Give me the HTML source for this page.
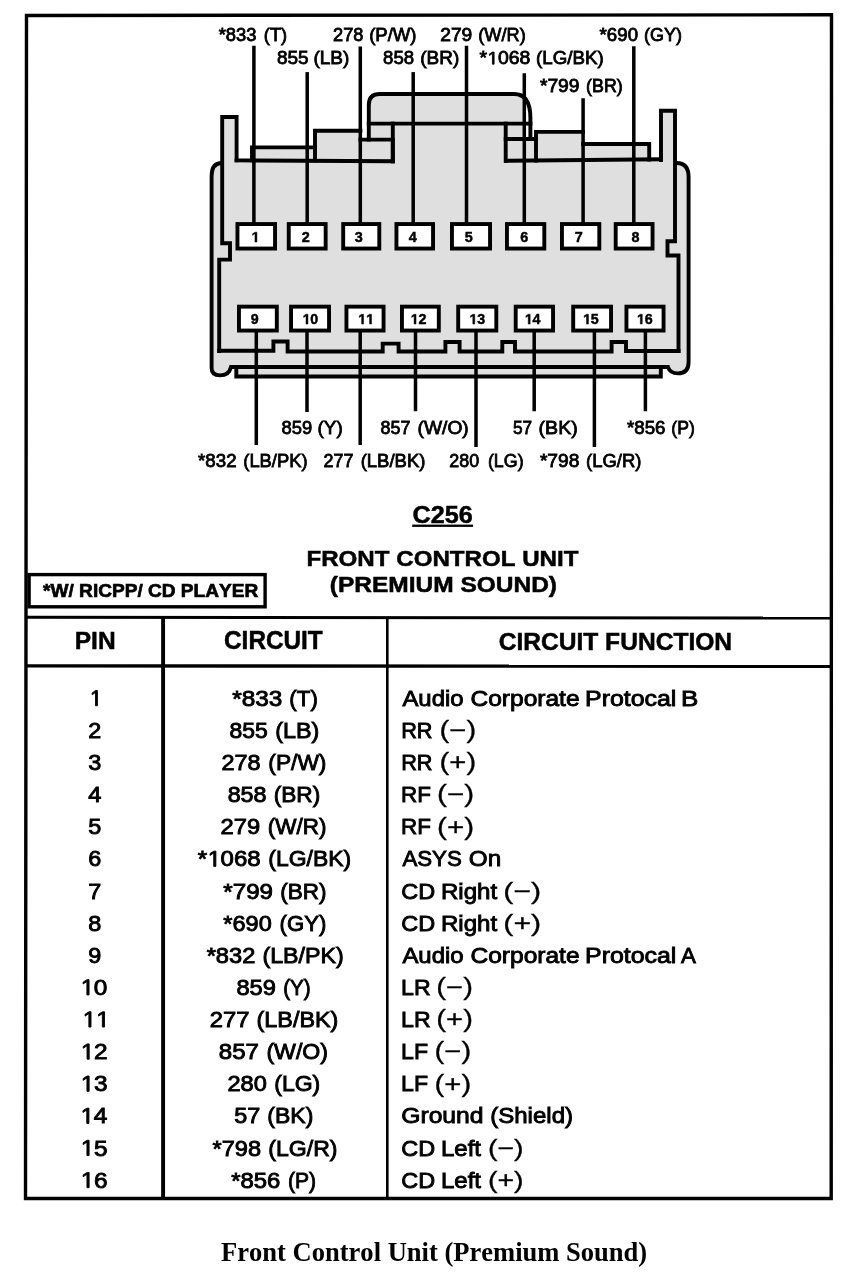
<!DOCTYPE html>
<html><head><meta charset="utf-8"><title>Front Control Unit (Premium Sound)</title>
<style>html,body{margin:0;padding:0;background:#fff;} svg{display:block;will-change:transform;} text{font-kerning:none;}</style>
</head><body>
<svg width="868" height="1276" viewBox="0 0 868 1276">
<rect x="0" y="0" width="868" height="1276" fill="#fff"/>
<path d="M 222.2,117 H 236.6 V 160.4 H 252 V 147.4 H 315 V 130.7 H 360.4 V 139.5 H 368.8 V 105 Q 368.8,94 379.8,94 H 514 Q 530.4,94 530.4,118 V 139 H 536 V 131.9 H 583 V 144 H 649.2 V 159 H 661 V 110.7 H 675 V 163 H 676.6 Q 688.6,163 688.6,177 V 362 Q 688.6,373.4 678,373.4 Q 670,373.4 668,367 H 661 V 376.5 H 236.3 V 367 H 231 Q 229,375.4 220,375.4 Q 211.6,375.4 211.6,368 V 176 Q 211.6,163 222,163 Z" fill="#dfdfdf"/>
<rect x="526" y="108" width="2.6" height="30" fill="#fff"/>
<rect x="237.45" y="224.05" width="37.60" height="24.50" fill="#fff" stroke="#000" stroke-width="3.9"/>
<rect x="288.75" y="224.05" width="36.90" height="24.50" fill="#fff" stroke="#000" stroke-width="3.9"/>
<rect x="343.20" y="224.05" width="36.10" height="24.50" fill="#fff" stroke="#000" stroke-width="3.9"/>
<rect x="396.45" y="224.05" width="36.60" height="24.50" fill="#fff" stroke="#000" stroke-width="3.9"/>
<rect x="451.95" y="224.05" width="38.10" height="24.50" fill="#fff" stroke="#000" stroke-width="3.9"/>
<rect x="506.95" y="224.05" width="37.35" height="24.50" fill="#fff" stroke="#000" stroke-width="3.9"/>
<rect x="561.95" y="224.05" width="37.35" height="24.50" fill="#fff" stroke="#000" stroke-width="3.9"/>
<rect x="615.70" y="224.05" width="36.85" height="24.50" fill="#fff" stroke="#000" stroke-width="3.9"/>
<rect x="238.95" y="306.65" width="37.85" height="23.90" fill="#fff" stroke="#000" stroke-width="3.9"/>
<rect x="291.05" y="306.65" width="38.00" height="23.90" fill="#fff" stroke="#000" stroke-width="3.9"/>
<rect x="346.45" y="306.65" width="37.10" height="23.90" fill="#fff" stroke="#000" stroke-width="3.9"/>
<rect x="401.95" y="306.65" width="36.85" height="23.90" fill="#fff" stroke="#000" stroke-width="3.9"/>
<rect x="458.20" y="306.65" width="38.10" height="23.90" fill="#fff" stroke="#000" stroke-width="3.9"/>
<rect x="515.70" y="306.65" width="37.35" height="23.90" fill="#fff" stroke="#000" stroke-width="3.9"/>
<rect x="573.20" y="306.65" width="37.85" height="23.90" fill="#fff" stroke="#000" stroke-width="3.9"/>
<rect x="626.45" y="306.65" width="37.10" height="23.90" fill="#fff" stroke="#000" stroke-width="3.9"/>
<g fill="none" stroke="#000" stroke-width="3.9" stroke-linejoin="miter" stroke-linecap="square">
<path d="M 219.2,351 V 259.6 H 230 V 243.2 H 222.2 V 117 H 236.6 V 160.4"/>
<path d="M 236.6,160.4 L 393,161.2"/>
<path d="M 252,160.4 V 147.4 H 315"/>
<path d="M 315,160.4 V 130.7 H 360.4"/>
<path d="M 360.4,139.6 H 392.8 V 161.2"/>
<path d="M 368.8,139.5 V 105 Q 368.8,94 379.8,94 H 514 Q 530.4,94 530.4,118 V 139"/>
<path d="M 368.8,123.6 H 530.4"/>
<path d="M 392.8,123.6 V 161.2"/>
<path d="M 505.7,123.6 V 160.8"/>
<path d="M 505.7,139 H 536"/>
<path d="M 536,160.6 V 131.9 H 583"/>
<path d="M 583,144 H 649.2 V 159.6"/>
<path d="M 506,160.8 L 661,159.3"/>
<path d="M 661,160 V 110.7 H 675 V 241.2 H 667.5 V 255.5 H 678.5 V 351"/>
<path d="M 219.2,350.8 H 273.4 V 341.5 H 287.6 V 351.5 H 382.7 V 343.6 H 398.6 V 351.5 H 445.4 V 342 H 459.6 V 351.5 H 502.3 V 342 H 515 V 351.5 H 611.6 V 342 H 626 V 351 H 678.5"/>
<path d="M 222,163 Q 211.6,163 211.6,176 V 368 Q 211.6,375.4 220,375.4 Q 229,375.4 231,367 H 668 Q 670,373.4 678,373.4 Q 688.6,373.4 688.6,362 V 177 Q 688.6,163 676.6,163"/>
<path d="M 236.3,367 V 376.5 H 660.8 V 367"/>
</g>
<g fill="#000">
<rect x="252.15" y="45.75" width="3.5" height="177.35"/>
<rect x="305.45" y="72.1" width="3.5" height="151.0"/>
<rect x="358.55" y="46.5" width="3.5" height="176.6"/>
<rect x="411.45" y="72.1" width="3.5" height="151.0"/>
<rect x="464.75" y="45.75" width="3.5" height="177.35"/>
<rect x="522.55" y="73.25" width="3.5" height="149.85"/>
<rect x="581.35" y="98.25" width="3.5" height="124.85"/>
<rect x="632.05" y="46.25" width="3.5" height="176.85"/>
<rect x="254.55" y="331.5" width="3.5" height="113.5"/>
<rect x="305.25" y="331.5" width="3.5" height="80.5"/>
<rect x="358.45" y="331.5" width="3.5" height="113.5"/>
<rect x="413.75" y="331.5" width="3.5" height="79.75"/>
<rect x="474.25" y="331.5" width="3.5" height="115.5"/>
<rect x="532.45" y="331.5" width="3.5" height="79.75"/>
<rect x="592.65" y="331.5" width="3.5" height="115.5"/>
<rect x="643.65" y="331.5" width="3.5" height="79.75"/>
<path d="M 26.5,15.5 L 831.5,14.8 L 831.2,1198.5 L 25.5,1198.5 Z" fill="none" stroke="#000" stroke-width="3.4"/>
<rect x="29.1" y="574.6" width="236.0" height="32.2" fill="none" stroke="#000" stroke-width="3.4"/>
<path d="M 26,617.3 L 831,618.0" stroke="#000" stroke-width="3" fill="none"/>
<path d="M 26,665.9 L 831,666.3" stroke="#000" stroke-width="3.4" fill="none"/>
<rect x="161.15" y="617" width="3.9" height="581"/>
<rect x="386.00" y="617" width="2.6" height="581"/>
<rect x="412.2" y="524.6" width="60.9" height="2.3"/>
</g>
<g fill="#000">
<text transform="translate(218.70,40.80) scale(1.0345,1)" font-family='"Liberation Sans", sans-serif' font-weight="normal" font-size="17.76" stroke="#000" stroke-width="0.8">*833</text>
<text transform="translate(263.87,40.80) scale(1.0257,1)" font-family='"Liberation Sans", sans-serif' font-weight="normal" font-size="17.76" stroke="#000" stroke-width="0.8">(T)</text>
<text transform="translate(333.08,40.80) scale(1.0263,1)" font-family='"Liberation Sans", sans-serif' font-weight="normal" font-size="17.76" stroke="#000" stroke-width="0.8">278</text>
<text transform="translate(369.15,40.80) scale(1.0448,1)" font-family='"Liberation Sans", sans-serif' font-weight="normal" font-size="17.76" stroke="#000" stroke-width="0.8">(P/W)</text>
<text transform="translate(440.23,40.80) scale(1.0826,1)" font-family='"Liberation Sans", sans-serif' font-weight="normal" font-size="17.76" stroke="#000" stroke-width="0.8">279</text>
<text transform="translate(478.27,40.80) scale(1.0239,1)" font-family='"Liberation Sans", sans-serif' font-weight="normal" font-size="17.76" stroke="#000" stroke-width="0.8">(W/R)</text>
<text transform="translate(599.60,40.80) scale(1.0517,1)" font-family='"Liberation Sans", sans-serif' font-weight="normal" font-size="17.76" stroke="#000" stroke-width="0.8">*690</text>
<text transform="translate(643.88,40.80) scale(1.0146,1)" font-family='"Liberation Sans", sans-serif' font-weight="normal" font-size="17.76" stroke="#000" stroke-width="0.8">(GY)</text>
<text transform="translate(276.98,64.20) scale(1.0758,1)" font-family='"Liberation Sans", sans-serif' font-weight="normal" font-size="17.62" stroke="#000" stroke-width="0.8">855</text>
<text transform="translate(313.42,64.20) scale(1.0806,1)" font-family='"Liberation Sans", sans-serif' font-weight="normal" font-size="17.62" stroke="#000" stroke-width="0.8">(LB)</text>
<text transform="translate(383.09,64.20) scale(1.0553,1)" font-family='"Liberation Sans", sans-serif' font-weight="normal" font-size="17.62" stroke="#000" stroke-width="0.8">858</text>
<text transform="translate(420.22,64.20) scale(1.0788,1)" font-family='"Liberation Sans", sans-serif' font-weight="normal" font-size="17.62" stroke="#000" stroke-width="0.8">(BR)</text>
<text transform="translate(479.59,64.20) scale(1.1024,1)" font-family='"Liberation Sans", sans-serif' font-weight="normal" font-size="17.62" stroke="#000" stroke-width="0.8">* 068</text><path transform="translate(487.14,64.20) scale(0.00948,-0.00860)" d="M 555,0 V 1237 L 237,1010 V 1180 L 570,1409 H 736 V 0 Z" stroke="#000" stroke-width="0.8" vector-effect="non-scaling-stroke"/>
<text transform="translate(536.04,64.20) scale(1.0645,1)" font-family='"Liberation Sans", sans-serif' font-weight="normal" font-size="17.62" stroke="#000" stroke-width="0.8">(LG/BK)</text>
<text transform="translate(539.89,92.00) scale(1.0843,1)" font-family='"Liberation Sans", sans-serif' font-weight="normal" font-size="17.76" stroke="#000" stroke-width="0.8">*799</text>
<text transform="translate(586.10,92.00) scale(1.0031,1)" font-family='"Liberation Sans", sans-serif' font-weight="normal" font-size="17.76" stroke="#000" stroke-width="0.8">(BR)</text>
<text transform="translate(281.60,434.20) scale(1.0027,1)" font-family='"Liberation Sans", sans-serif' font-weight="normal" font-size="18.33" stroke="#000" stroke-width="0.8">859</text>
<text transform="translate(317.53,434.20) scale(1.0333,1)" font-family='"Liberation Sans", sans-serif' font-weight="normal" font-size="18.33" stroke="#000" stroke-width="0.8">(Y)</text>
<text transform="translate(380.52,434.20) scale(0.9769,1)" font-family='"Liberation Sans", sans-serif' font-weight="normal" font-size="18.33" stroke="#000" stroke-width="0.8">857</text>
<text transform="translate(417.61,434.20) scale(1.0474,1)" font-family='"Liberation Sans", sans-serif' font-weight="normal" font-size="18.33" stroke="#000" stroke-width="0.8">(W/O)</text>
<text transform="translate(512.91,434.20) scale(0.9394,1)" font-family='"Liberation Sans", sans-serif' font-weight="normal" font-size="18.33" stroke="#000" stroke-width="0.8">57</text>
<text transform="translate(538.59,434.20) scale(1.0672,1)" font-family='"Liberation Sans", sans-serif' font-weight="normal" font-size="18.33" stroke="#000" stroke-width="0.8">(BK)</text>
<text transform="translate(627.00,434.20) scale(1.0213,1)" font-family='"Liberation Sans", sans-serif' font-weight="normal" font-size="18.33" stroke="#000" stroke-width="0.8">*856</text>
<text transform="translate(671.31,434.20) scale(0.9611,1)" font-family='"Liberation Sans", sans-serif' font-weight="normal" font-size="18.33" stroke="#000" stroke-width="0.8">(P)</text>
<text transform="translate(198.10,466.80) scale(1.0191,1)" font-family='"Liberation Sans", sans-serif' font-weight="normal" font-size="18.33" stroke="#000" stroke-width="0.8">*832</text>
<text transform="translate(243.26,466.80) scale(1.0031,1)" font-family='"Liberation Sans", sans-serif' font-weight="normal" font-size="18.33" stroke="#000" stroke-width="0.8">(LB/PK)</text>
<text transform="translate(323.40,466.80) scale(0.9811,1)" font-family='"Liberation Sans", sans-serif' font-weight="normal" font-size="18.33" stroke="#000" stroke-width="0.8">277</text>
<text transform="translate(360.65,466.80) scale(1.0112,1)" font-family='"Liberation Sans", sans-serif' font-weight="normal" font-size="18.33" stroke="#000" stroke-width="0.8">(LB/BK)</text>
<text transform="translate(449.30,466.80) scale(0.9776,1)" font-family='"Liberation Sans", sans-serif' font-weight="normal" font-size="18.33" stroke="#000" stroke-width="0.8">280</text>
<text transform="translate(487.89,466.80) scale(0.9741,1)" font-family='"Liberation Sans", sans-serif' font-weight="normal" font-size="18.33" stroke="#000" stroke-width="0.8">(LG)</text>
<text transform="translate(539.89,466.80) scale(1.0484,1)" font-family='"Liberation Sans", sans-serif' font-weight="normal" font-size="18.33" stroke="#000" stroke-width="0.8">*798</text>
<text transform="translate(586.06,466.80) scale(1.0072,1)" font-family='"Liberation Sans", sans-serif' font-weight="normal" font-size="18.33" stroke="#000" stroke-width="0.8">(LG/R)</text>
<text transform="translate(251.31,242.08) scale(1.0000,1)" font-family='"Liberation Sans", sans-serif' font-weight="bold" font-size="14.39" stroke="#000" stroke-width="0.45"> </text><path transform="translate(251.31,242.08) scale(0.00703,-0.00703)" d="M 518,0 V 1170 L 180,959 V 1180 L 533,1409 H 799 V 0 Z" stroke="#000" stroke-width="0.45" vector-effect="non-scaling-stroke"/>
<text transform="translate(301.64,242.08) scale(1.0000,1)" font-family='"Liberation Sans", sans-serif' font-weight="bold" font-size="14.39" stroke="#000" stroke-width="0.45">2</text>
<text transform="translate(354.84,242.08) scale(1.0000,1)" font-family='"Liberation Sans", sans-serif' font-weight="bold" font-size="14.39" stroke="#000" stroke-width="0.45">3</text>
<text transform="translate(408.80,242.08) scale(1.0000,1)" font-family='"Liberation Sans", sans-serif' font-weight="bold" font-size="14.39" stroke="#000" stroke-width="0.45">4</text>
<text transform="translate(464.73,242.08) scale(1.0000,1)" font-family='"Liberation Sans", sans-serif' font-weight="bold" font-size="14.39" stroke="#000" stroke-width="0.45">5</text>
<text transform="translate(520.24,242.08) scale(1.0000,1)" font-family='"Liberation Sans", sans-serif' font-weight="bold" font-size="14.39" stroke="#000" stroke-width="0.45">6</text>
<text transform="translate(574.75,242.08) scale(1.0000,1)" font-family='"Liberation Sans", sans-serif' font-weight="bold" font-size="14.39" stroke="#000" stroke-width="0.45">7</text>
<text transform="translate(631.62,242.08) scale(1.0000,1)" font-family='"Liberation Sans", sans-serif' font-weight="bold" font-size="14.39" stroke="#000" stroke-width="0.45">8</text>
<text transform="translate(250.80,324.07) scale(1.0000,1)" font-family='"Liberation Sans", sans-serif' font-weight="bold" font-size="14.25" stroke="#000" stroke-width="0.45">9</text>
<text transform="translate(302.39,324.07) scale(1.0000,1)" font-family='"Liberation Sans", sans-serif' font-weight="bold" font-size="14.25" stroke="#000" stroke-width="0.45"> 0</text><path transform="translate(302.39,324.07) scale(0.00696,-0.00696)" d="M 518,0 V 1170 L 180,959 V 1180 L 533,1409 H 799 V 0 Z" stroke="#000" stroke-width="0.45" vector-effect="non-scaling-stroke"/>
<text transform="translate(358.01,324.07) scale(1.0000,1)" font-family='"Liberation Sans", sans-serif' font-weight="bold" font-size="14.25" stroke="#000" stroke-width="0.45">  </text><path transform="translate(358.01,324.07) scale(0.00696,-0.00696)" d="M 518,0 V 1170 L 180,959 V 1180 L 533,1409 H 799 V 0 Z" stroke="#000" stroke-width="0.45" vector-effect="non-scaling-stroke"/><path transform="translate(365.93,324.07) scale(0.00696,-0.00696)" d="M 518,0 V 1170 L 180,959 V 1180 L 533,1409 H 799 V 0 Z" stroke="#000" stroke-width="0.45" vector-effect="non-scaling-stroke"/>
<text transform="translate(410.48,324.07) scale(1.0000,1)" font-family='"Liberation Sans", sans-serif' font-weight="bold" font-size="14.25" stroke="#000" stroke-width="0.45"> 2</text><path transform="translate(410.48,324.07) scale(0.00696,-0.00696)" d="M 518,0 V 1170 L 180,959 V 1180 L 533,1409 H 799 V 0 Z" stroke="#000" stroke-width="0.45" vector-effect="non-scaling-stroke"/>
<text transform="translate(469.21,324.07) scale(1.0000,1)" font-family='"Liberation Sans", sans-serif' font-weight="bold" font-size="14.25" stroke="#000" stroke-width="0.45"> 3</text><path transform="translate(469.21,324.07) scale(0.00696,-0.00696)" d="M 518,0 V 1170 L 180,959 V 1180 L 533,1409 H 799 V 0 Z" stroke="#000" stroke-width="0.45" vector-effect="non-scaling-stroke"/>
<text transform="translate(524.61,324.07) scale(1.0000,1)" font-family='"Liberation Sans", sans-serif' font-weight="bold" font-size="14.25" stroke="#000" stroke-width="0.45"> 4</text><path transform="translate(524.61,324.07) scale(0.00696,-0.00696)" d="M 518,0 V 1170 L 180,959 V 1180 L 533,1409 H 799 V 0 Z" stroke="#000" stroke-width="0.45" vector-effect="non-scaling-stroke"/>
<text transform="translate(582.90,324.07) scale(1.0000,1)" font-family='"Liberation Sans", sans-serif' font-weight="bold" font-size="14.25" stroke="#000" stroke-width="0.45"> 5</text><path transform="translate(582.90,324.07) scale(0.00696,-0.00696)" d="M 518,0 V 1170 L 180,959 V 1180 L 533,1409 H 799 V 0 Z" stroke="#000" stroke-width="0.45" vector-effect="non-scaling-stroke"/>
<text transform="translate(636.71,324.07) scale(1.0000,1)" font-family='"Liberation Sans", sans-serif' font-weight="bold" font-size="14.25" stroke="#000" stroke-width="0.45"> 6</text><path transform="translate(636.71,324.07) scale(0.00696,-0.00696)" d="M 518,0 V 1170 L 180,959 V 1180 L 533,1409 H 799 V 0 Z" stroke="#000" stroke-width="0.45" vector-effect="non-scaling-stroke"/>
<text transform="translate(412.52,523.05) scale(1.0290,1)" font-family='"Liberation Sans", sans-serif' font-weight="bold" font-size="24.49" stroke="#000" stroke-width="0.5">C256</text>
<text transform="translate(306.44,566.05) scale(1.0783,1)" font-family='"Liberation Sans", sans-serif' font-weight="bold" font-size="22.38" stroke="#000" stroke-width="0.5">FRONT CONTROL UNIT</text>
<text transform="translate(329.83,592.45) scale(1.1239,1)" font-family='"Liberation Sans", sans-serif' font-weight="bold" font-size="21.80" stroke="#000" stroke-width="0.5">(PREMIUM SOUND)</text>
<text transform="translate(43.09,596.75) scale(1.0027,1)" font-family='"Liberation Sans", sans-serif' font-weight="bold" font-size="19.04" stroke="#000" stroke-width="0.7">*W/ RICPP/ CD PLAYER</text>
<text transform="translate(74.71,648.95) scale(1.0046,1)" font-family='"Liberation Sans", sans-serif' font-weight="bold" font-size="24.42" stroke="#000" stroke-width="0.5">PIN</text>
<text transform="translate(224.05,649.45) scale(0.9742,1)" font-family='"Liberation Sans", sans-serif' font-weight="bold" font-size="25.00" stroke="#000" stroke-width="0.5">CIRCUIT</text>
<text transform="translate(498.64,650.35) scale(1.0010,1)" font-family='"Liberation Sans", sans-serif' font-weight="bold" font-size="24.56" stroke="#000" stroke-width="0.5">CIRCUIT FUNCTION</text>
<text transform="translate(89.65,705.75) scale(0.9763,1)" font-family='"Liberation Sans", sans-serif' font-weight="normal" font-size="22.20" stroke="#000" stroke-width="0.9"> </text><path transform="translate(89.65,705.75) scale(0.01058,-0.01084)" d="M 555,0 V 1237 L 237,1010 V 1180 L 570,1409 H 736 V 0 Z" stroke="#000" stroke-width="0.9" vector-effect="non-scaling-stroke"/>
<text transform="translate(232.16,705.75) scale(1.0983,1)" font-family='"Liberation Sans", sans-serif' font-weight="normal" font-size="22.20" stroke="#000" stroke-width="0.9">*833</text>
<text transform="translate(289.37,705.75) scale(1.0042,1)" font-family='"Liberation Sans", sans-serif' font-weight="normal" font-size="22.20" stroke="#000" stroke-width="0.9">(T)</text>
<text transform="translate(402.40,705.75) scale(1.0612,1)" font-family='"Liberation Sans", sans-serif' font-weight="normal" font-size="22.53" stroke="#000" stroke-width="0.9">Audio</text>
<text transform="translate(470.45,705.75) scale(1.0899,1)" font-family='"Liberation Sans", sans-serif' font-weight="normal" font-size="22.53" stroke="#000" stroke-width="0.9">Corporate</text>
<text transform="translate(585.01,705.75) scale(1.1060,1)" font-family='"Liberation Sans", sans-serif' font-weight="normal" font-size="22.53" stroke="#000" stroke-width="0.9">Protocal</text>
<text transform="translate(680.92,705.75) scale(1.1509,1)" font-family='"Liberation Sans", sans-serif' font-weight="normal" font-size="22.53" stroke="#000" stroke-width="0.9">B</text>
<text transform="translate(88.30,737.88) scale(1.0537,1)" font-family='"Liberation Sans", sans-serif' font-weight="normal" font-size="22.20" stroke="#000" stroke-width="0.9">2</text>
<text transform="translate(229.55,737.88) scale(1.0358,1)" font-family='"Liberation Sans", sans-serif' font-weight="normal" font-size="22.20" stroke="#000" stroke-width="0.9">855</text>
<text transform="translate(275.20,737.88) scale(1.0515,1)" font-family='"Liberation Sans", sans-serif' font-weight="normal" font-size="22.20" stroke="#000" stroke-width="0.9">(LB)</text>
<text transform="translate(401.17,737.88) scale(0.9647,1)" font-family='"Liberation Sans", sans-serif' font-weight="normal" font-size="22.53" stroke="#000" stroke-width="0.9">RR</text>
<text transform="translate(439.59,738.18) scale(1.2505,1)" font-family='"Liberation Sans", sans-serif' font-weight="normal" font-size="23.40" stroke="#000" stroke-width="0.3">(−)</text>
<text transform="translate(88.34,770.01) scale(1.0572,1)" font-family='"Liberation Sans", sans-serif' font-weight="normal" font-size="22.20" stroke="#000" stroke-width="0.9">3</text>
<text transform="translate(221.57,770.01) scale(1.0556,1)" font-family='"Liberation Sans", sans-serif' font-weight="normal" font-size="22.20" stroke="#000" stroke-width="0.9">278</text>
<text transform="translate(268.34,770.01) scale(1.0249,1)" font-family='"Liberation Sans", sans-serif' font-weight="normal" font-size="22.20" stroke="#000" stroke-width="0.9">(P/W)</text>
<text transform="translate(401.17,770.01) scale(0.9647,1)" font-family='"Liberation Sans", sans-serif' font-weight="normal" font-size="22.53" stroke="#000" stroke-width="0.9">RR</text>
<text transform="translate(439.59,770.31) scale(1.2505,1)" font-family='"Liberation Sans", sans-serif' font-weight="normal" font-size="23.40" stroke="#000" stroke-width="0.3">(+)</text>
<text transform="translate(88.32,802.14) scale(1.0623,1)" font-family='"Liberation Sans", sans-serif' font-weight="normal" font-size="22.20" stroke="#000" stroke-width="0.9">4</text>
<text transform="translate(227.64,802.14) scale(1.0510,1)" font-family='"Liberation Sans", sans-serif' font-weight="normal" font-size="22.20" stroke="#000" stroke-width="0.9">858</text>
<text transform="translate(273.64,802.14) scale(1.0217,1)" font-family='"Liberation Sans", sans-serif' font-weight="normal" font-size="22.20" stroke="#000" stroke-width="0.9">(BR)</text>
<text transform="translate(401.11,802.14) scale(0.9933,1)" font-family='"Liberation Sans", sans-serif' font-weight="normal" font-size="22.53" stroke="#000" stroke-width="0.9">RF</text>
<text transform="translate(437.06,802.44) scale(1.2695,1)" font-family='"Liberation Sans", sans-serif' font-weight="normal" font-size="23.40" stroke="#000" stroke-width="0.3">(−)</text>
<text transform="translate(88.30,834.27) scale(1.0572,1)" font-family='"Liberation Sans", sans-serif' font-weight="normal" font-size="22.20" stroke="#000" stroke-width="0.9">5</text>
<text transform="translate(220.56,834.27) scale(1.0697,1)" font-family='"Liberation Sans", sans-serif' font-weight="normal" font-size="22.20" stroke="#000" stroke-width="0.9">279</text>
<text transform="translate(267.76,834.27) scale(1.0130,1)" font-family='"Liberation Sans", sans-serif' font-weight="normal" font-size="22.20" stroke="#000" stroke-width="0.9">(W/R)</text>
<text transform="translate(401.11,834.27) scale(0.9933,1)" font-family='"Liberation Sans", sans-serif' font-weight="normal" font-size="22.53" stroke="#000" stroke-width="0.9">RF</text>
<text transform="translate(437.06,834.57) scale(1.2695,1)" font-family='"Liberation Sans", sans-serif' font-weight="normal" font-size="23.40" stroke="#000" stroke-width="0.3">(+)</text>
<text transform="translate(88.21,866.40) scale(1.0548,1)" font-family='"Liberation Sans", sans-serif' font-weight="normal" font-size="22.20" stroke="#000" stroke-width="0.9">6</text>
<text transform="translate(197.86,866.40) scale(1.0829,1)" font-family='"Liberation Sans", sans-serif' font-weight="normal" font-size="22.20" stroke="#000" stroke-width="0.9">* 068</text><path transform="translate(207.22,866.40) scale(0.01174,-0.01084)" d="M 555,0 V 1237 L 237,1010 V 1180 L 570,1409 H 736 V 0 Z" stroke="#000" stroke-width="0.9" vector-effect="non-scaling-stroke"/>
<text transform="translate(268.33,866.40) scale(1.0333,1)" font-family='"Liberation Sans", sans-serif' font-weight="normal" font-size="22.20" stroke="#000" stroke-width="0.9">(LG/BK)</text>
<text transform="translate(402.41,866.40) scale(0.9885,1)" font-family='"Liberation Sans", sans-serif' font-weight="normal" font-size="22.53" stroke="#000" stroke-width="0.9">ASYS</text>
<text transform="translate(468.80,866.40) scale(1.0754,1)" font-family='"Liberation Sans", sans-serif' font-weight="normal" font-size="22.53" stroke="#000" stroke-width="0.9">On</text>
<text transform="translate(88.29,898.53) scale(1.0535,1)" font-family='"Liberation Sans", sans-serif' font-weight="normal" font-size="22.20" stroke="#000" stroke-width="0.9">7</text>
<text transform="translate(223.36,898.53) scale(1.0866,1)" font-family='"Liberation Sans", sans-serif' font-weight="normal" font-size="22.20" stroke="#000" stroke-width="0.9">*799</text>
<text transform="translate(280.15,898.53) scale(1.0147,1)" font-family='"Liberation Sans", sans-serif' font-weight="normal" font-size="22.20" stroke="#000" stroke-width="0.9">(BR)</text>
<text transform="translate(401.26,898.53) scale(1.0423,1)" font-family='"Liberation Sans", sans-serif' font-weight="normal" font-size="22.53" stroke="#000" stroke-width="0.9">CD</text>
<text transform="translate(440.97,898.53) scale(1.0696,1)" font-family='"Liberation Sans", sans-serif' font-weight="normal" font-size="22.53" stroke="#000" stroke-width="0.9">Right</text>
<text transform="translate(503.27,898.83) scale(1.2979,1)" font-family='"Liberation Sans", sans-serif' font-weight="normal" font-size="23.40" stroke="#000" stroke-width="0.3">(−)</text>
<text transform="translate(88.28,930.66) scale(1.0563,1)" font-family='"Liberation Sans", sans-serif' font-weight="normal" font-size="22.20" stroke="#000" stroke-width="0.9">8</text>
<text transform="translate(223.37,930.66) scale(1.0596,1)" font-family='"Liberation Sans", sans-serif' font-weight="normal" font-size="22.20" stroke="#000" stroke-width="0.9">*690</text>
<text transform="translate(279.57,930.66) scale(0.9999,1)" font-family='"Liberation Sans", sans-serif' font-weight="normal" font-size="22.20" stroke="#000" stroke-width="0.9">(GY)</text>
<text transform="translate(401.26,930.66) scale(1.0423,1)" font-family='"Liberation Sans", sans-serif' font-weight="normal" font-size="22.53" stroke="#000" stroke-width="0.9">CD</text>
<text transform="translate(440.97,930.66) scale(1.0696,1)" font-family='"Liberation Sans", sans-serif' font-weight="normal" font-size="22.53" stroke="#000" stroke-width="0.9">Right</text>
<text transform="translate(503.27,930.96) scale(1.2979,1)" font-family='"Liberation Sans", sans-serif' font-weight="normal" font-size="23.40" stroke="#000" stroke-width="0.3">(+)</text>
<text transform="translate(88.29,962.79) scale(1.0549,1)" font-family='"Liberation Sans", sans-serif' font-weight="normal" font-size="22.20" stroke="#000" stroke-width="0.9">9</text>
<text transform="translate(206.67,962.79) scale(1.0656,1)" font-family='"Liberation Sans", sans-serif' font-weight="normal" font-size="22.20" stroke="#000" stroke-width="0.9">*832</text>
<text transform="translate(262.41,962.79) scale(1.0472,1)" font-family='"Liberation Sans", sans-serif' font-weight="normal" font-size="22.20" stroke="#000" stroke-width="0.9">(LB/PK)</text>
<text transform="translate(402.40,962.79) scale(1.0612,1)" font-family='"Liberation Sans", sans-serif' font-weight="normal" font-size="22.53" stroke="#000" stroke-width="0.9">Audio</text>
<text transform="translate(470.45,962.79) scale(1.0899,1)" font-family='"Liberation Sans", sans-serif' font-weight="normal" font-size="22.53" stroke="#000" stroke-width="0.9">Corporate</text>
<text transform="translate(585.01,962.79) scale(1.1060,1)" font-family='"Liberation Sans", sans-serif' font-weight="normal" font-size="22.53" stroke="#000" stroke-width="0.9">Protocal</text>
<text transform="translate(681.11,962.79) scale(0.9907,1)" font-family='"Liberation Sans", sans-serif' font-weight="normal" font-size="22.53" stroke="#000" stroke-width="0.9">A</text>
<text transform="translate(80.28,994.92) scale(1.1004,1)" font-family='"Liberation Sans", sans-serif' font-weight="normal" font-size="22.20" stroke="#000" stroke-width="0.9"> 0</text><path transform="translate(80.28,994.92) scale(0.01193,-0.01084)" d="M 555,0 V 1237 L 237,1010 V 1180 L 570,1409 H 736 V 0 Z" stroke="#000" stroke-width="0.9" vector-effect="non-scaling-stroke"/>
<text transform="translate(236.42,994.92) scale(1.0651,1)" font-family='"Liberation Sans", sans-serif' font-weight="normal" font-size="22.20" stroke="#000" stroke-width="0.9">859</text>
<text transform="translate(283.17,994.92) scale(0.9315,1)" font-family='"Liberation Sans", sans-serif' font-weight="normal" font-size="22.20" stroke="#000" stroke-width="0.9">(Y)</text>
<text transform="translate(401.05,994.92) scale(1.0268,1)" font-family='"Liberation Sans", sans-serif' font-weight="normal" font-size="22.53" stroke="#000" stroke-width="0.9">LR</text>
<text transform="translate(436.34,995.22) scale(1.2505,1)" font-family='"Liberation Sans", sans-serif' font-weight="normal" font-size="23.40" stroke="#000" stroke-width="0.3">(−)</text>
<text transform="translate(82.30,1027.05) scale(1.0920,1)" font-family='"Liberation Sans", sans-serif' font-weight="normal" font-size="22.20" stroke="#000" stroke-width="0.9">  </text><path transform="translate(82.30,1027.05) scale(0.01184,-0.01084)" d="M 555,0 V 1237 L 237,1010 V 1180 L 570,1409 H 736 V 0 Z" stroke="#000" stroke-width="0.9" vector-effect="non-scaling-stroke"/><path transform="translate(95.78,1027.05) scale(0.01184,-0.01084)" d="M 555,0 V 1237 L 237,1010 V 1180 L 570,1409 H 736 V 0 Z" stroke="#000" stroke-width="0.9" vector-effect="non-scaling-stroke"/>
<text transform="translate(209.85,1027.05) scale(1.0717,1)" font-family='"Liberation Sans", sans-serif' font-weight="normal" font-size="22.20" stroke="#000" stroke-width="0.9">277</text>
<text transform="translate(256.60,1027.05) scale(1.0512,1)" font-family='"Liberation Sans", sans-serif' font-weight="normal" font-size="22.20" stroke="#000" stroke-width="0.9">(LB/BK)</text>
<text transform="translate(401.05,1027.05) scale(1.0268,1)" font-family='"Liberation Sans", sans-serif' font-weight="normal" font-size="22.53" stroke="#000" stroke-width="0.9">LR</text>
<text transform="translate(436.34,1027.35) scale(1.2505,1)" font-family='"Liberation Sans", sans-serif' font-weight="normal" font-size="23.40" stroke="#000" stroke-width="0.3">(+)</text>
<text transform="translate(80.42,1059.18) scale(1.0999,1)" font-family='"Liberation Sans", sans-serif' font-weight="normal" font-size="22.20" stroke="#000" stroke-width="0.9"> 2</text><path transform="translate(80.42,1059.18) scale(0.01192,-0.01084)" d="M 555,0 V 1237 L 237,1010 V 1180 L 570,1409 H 736 V 0 Z" stroke="#000" stroke-width="0.9" vector-effect="non-scaling-stroke"/>
<text transform="translate(218.80,1059.18) scale(1.0842,1)" font-family='"Liberation Sans", sans-serif' font-weight="normal" font-size="22.20" stroke="#000" stroke-width="0.9">857</text>
<text transform="translate(266.42,1059.18) scale(1.0422,1)" font-family='"Liberation Sans", sans-serif' font-weight="normal" font-size="22.20" stroke="#000" stroke-width="0.9">(W/O)</text>
<text transform="translate(401.06,1059.18) scale(1.0237,1)" font-family='"Liberation Sans", sans-serif' font-weight="normal" font-size="22.53" stroke="#000" stroke-width="0.9">LF</text>
<text transform="translate(434.59,1059.48) scale(1.2505,1)" font-family='"Liberation Sans", sans-serif' font-weight="normal" font-size="23.40" stroke="#000" stroke-width="0.3">(−)</text>
<text transform="translate(80.34,1091.31) scale(1.1002,1)" font-family='"Liberation Sans", sans-serif' font-weight="normal" font-size="22.20" stroke="#000" stroke-width="0.9"> 3</text><path transform="translate(80.34,1091.31) scale(0.01192,-0.01084)" d="M 555,0 V 1237 L 237,1010 V 1180 L 570,1409 H 736 V 0 Z" stroke="#000" stroke-width="0.9" vector-effect="non-scaling-stroke"/>
<text transform="translate(227.46,1091.31) scale(1.0641,1)" font-family='"Liberation Sans", sans-serif' font-weight="normal" font-size="22.20" stroke="#000" stroke-width="0.9">280</text>
<text transform="translate(274.22,1091.31) scale(1.0374,1)" font-family='"Liberation Sans", sans-serif' font-weight="normal" font-size="22.20" stroke="#000" stroke-width="0.9">(LG)</text>
<text transform="translate(401.06,1091.31) scale(1.0237,1)" font-family='"Liberation Sans", sans-serif' font-weight="normal" font-size="22.53" stroke="#000" stroke-width="0.9">LF</text>
<text transform="translate(434.59,1091.61) scale(1.2505,1)" font-family='"Liberation Sans", sans-serif' font-weight="normal" font-size="23.40" stroke="#000" stroke-width="0.3">(+)</text>
<text transform="translate(80.15,1123.44) scale(1.1008,1)" font-family='"Liberation Sans", sans-serif' font-weight="normal" font-size="22.20" stroke="#000" stroke-width="0.9"> 4</text><path transform="translate(80.15,1123.44) scale(0.01193,-0.01084)" d="M 555,0 V 1237 L 237,1010 V 1180 L 570,1409 H 736 V 0 Z" stroke="#000" stroke-width="0.9" vector-effect="non-scaling-stroke"/>
<text transform="translate(234.21,1123.44) scale(1.0535,1)" font-family='"Liberation Sans", sans-serif' font-weight="normal" font-size="22.20" stroke="#000" stroke-width="0.9">57</text>
<text transform="translate(267.32,1123.44) scale(1.0374,1)" font-family='"Liberation Sans", sans-serif' font-weight="normal" font-size="22.20" stroke="#000" stroke-width="0.9">(BK)</text>
<text transform="translate(401.21,1123.44) scale(1.0970,1)" font-family='"Liberation Sans", sans-serif' font-weight="normal" font-size="22.53" stroke="#000" stroke-width="0.9">Ground</text>
<text transform="translate(490.21,1123.44) scale(1.0670,1)" font-family='"Liberation Sans", sans-serif' font-weight="normal" font-size="22.53" stroke="#000" stroke-width="0.9">(Shield)</text>
<text transform="translate(80.32,1155.57) scale(1.1002,1)" font-family='"Liberation Sans", sans-serif' font-weight="normal" font-size="22.20" stroke="#000" stroke-width="0.9"> 5</text><path transform="translate(80.32,1155.57) scale(0.01193,-0.01084)" d="M 555,0 V 1237 L 237,1010 V 1180 L 570,1409 H 736 V 0 Z" stroke="#000" stroke-width="0.9" vector-effect="non-scaling-stroke"/>
<text transform="translate(212.57,1155.57) scale(1.0619,1)" font-family='"Liberation Sans", sans-serif' font-weight="normal" font-size="22.20" stroke="#000" stroke-width="0.9">*798</text>
<text transform="translate(268.32,1155.57) scale(1.0385,1)" font-family='"Liberation Sans", sans-serif' font-weight="normal" font-size="22.20" stroke="#000" stroke-width="0.9">(LG/R)</text>
<text transform="translate(401.26,1155.57) scale(1.0423,1)" font-family='"Liberation Sans", sans-serif' font-weight="normal" font-size="22.53" stroke="#000" stroke-width="0.9">CD</text>
<text transform="translate(440.98,1155.57) scale(1.0642,1)" font-family='"Liberation Sans", sans-serif' font-weight="normal" font-size="22.53" stroke="#000" stroke-width="0.9">Left</text>
<text transform="translate(487.88,1155.87) scale(1.2220,1)" font-family='"Liberation Sans", sans-serif' font-weight="normal" font-size="23.40" stroke="#000" stroke-width="0.3">(−)</text>
<text transform="translate(80.34,1187.70) scale(1.1002,1)" font-family='"Liberation Sans", sans-serif' font-weight="normal" font-size="22.20" stroke="#000" stroke-width="0.9"> 6</text><path transform="translate(80.34,1187.70) scale(0.01192,-0.01084)" d="M 555,0 V 1237 L 237,1010 V 1180 L 570,1409 H 736 V 0 Z" stroke="#000" stroke-width="0.9" vector-effect="non-scaling-stroke"/>
<text transform="translate(231.17,1187.70) scale(1.0757,1)" font-family='"Liberation Sans", sans-serif' font-weight="normal" font-size="22.20" stroke="#000" stroke-width="0.9">*856</text>
<text transform="translate(288.04,1187.70) scale(0.9502,1)" font-family='"Liberation Sans", sans-serif' font-weight="normal" font-size="22.20" stroke="#000" stroke-width="0.9">(P)</text>
<text transform="translate(401.26,1187.70) scale(1.0423,1)" font-family='"Liberation Sans", sans-serif' font-weight="normal" font-size="22.53" stroke="#000" stroke-width="0.9">CD</text>
<text transform="translate(440.98,1187.70) scale(1.0642,1)" font-family='"Liberation Sans", sans-serif' font-weight="normal" font-size="22.53" stroke="#000" stroke-width="0.9">Left</text>
<text transform="translate(487.88,1188.00) scale(1.2220,1)" font-family='"Liberation Sans", sans-serif' font-weight="normal" font-size="23.40" stroke="#000" stroke-width="0.3">(+)</text>
<text transform="translate(221.05,1260.70) scale(0.9879,1)" font-family='"Liberation Serif", serif' font-weight="bold" font-size="26.88">Front Control Unit (Premium Sound)</text>
</g>
</svg>
</body></html>
